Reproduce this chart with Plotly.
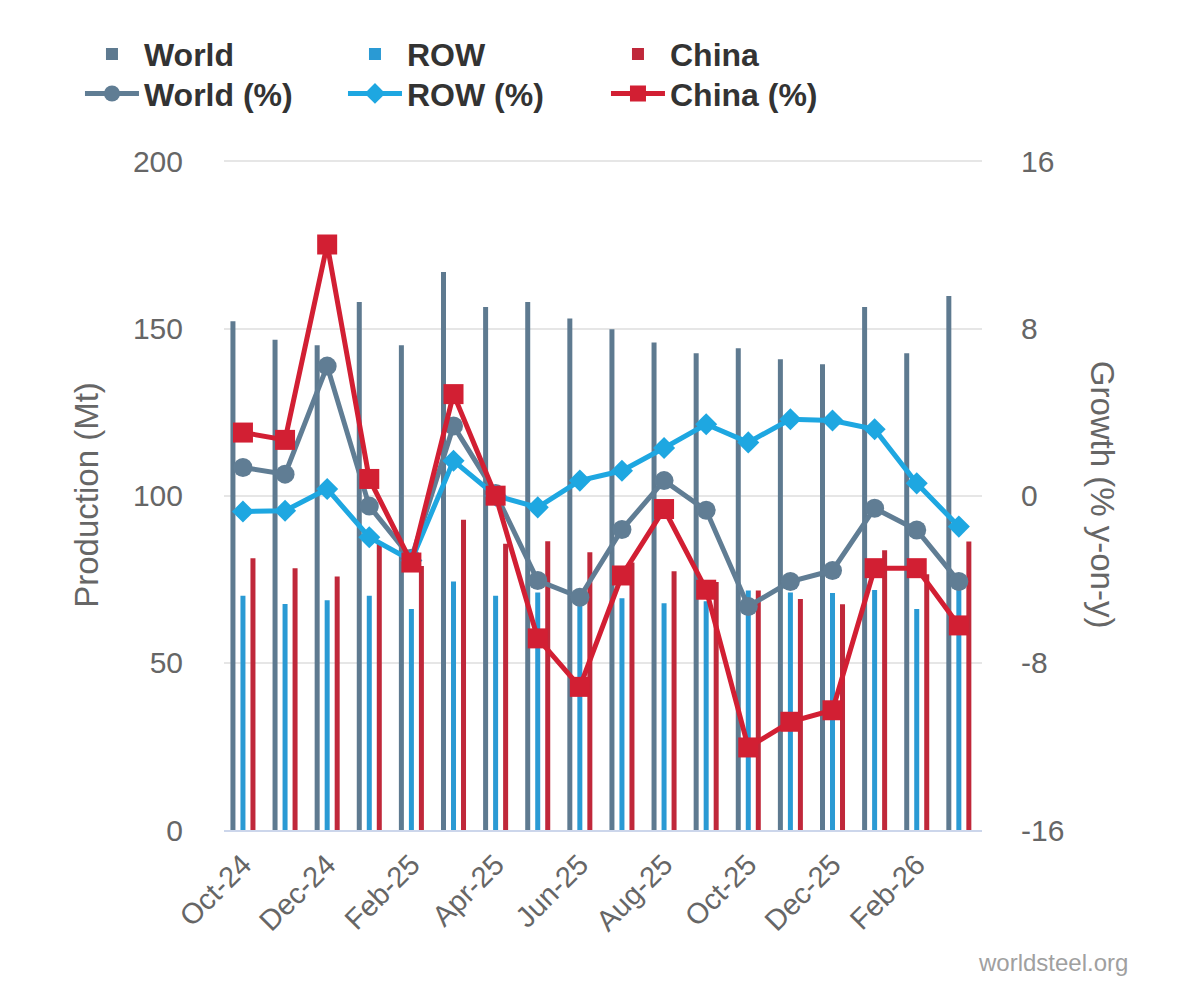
#!/usr/bin/env python
# -*- coding: utf-8 -*-

import plotly.graph_objects as go

# 월별 조강 생산 (Mt) 및 전년 대비 증감률 (%)
months = ["Oct-24", "Nov-24", "Dec-24", "Jan-25", "Feb-25", "Mar-25",
          "Apr-25", "May-25", "Jun-25", "Jul-25", "Aug-25", "Sep-25",
          "Oct-25", "Nov-25", "Dec-25", "Jan-26", "Feb-26", "Mar-26"]

tick_labels = ["Oct-24", "Dec-24", "Feb-25", "Apr-25", "Jun-25",
               "Aug-25", "Oct-25", "Dec-25", "Feb-26"]

growth_ticks = [-16, -8, 0, 8, 16]
growth_tick_text = ["-16", "-8", "0", "8", "16"]

world_mt = [152.2, 146.6, 145.0, 157.9, 145.0, 166.9, 156.4, 157.9, 153.0,
            149.8, 145.8, 142.6, 144.1, 140.8, 139.3, 156.4, 142.6, 159.7]
row_mt = [70.1, 67.6, 68.7, 70.1, 66.1, 74.3, 70.1, 71.0, 69.0,
          69.3, 67.8, 68.4, 71.6, 71.0, 70.9, 71.8, 66.1, 72.0]
china_mt = [81.3, 78.3, 75.8, 86.0, 79.0, 92.8, 85.6, 86.4, 83.1,
            80.0, 77.4, 74.2, 71.6, 69.1, 67.5, 83.7, 76.5, 86.3]

world_pct = [1.35, 1.03, 6.2, -0.5, -3.0, 3.34, 0.1, -4.06, -4.86,
             -1.62, 0.72, -0.7, -5.3, -4.11, -3.58, -0.6, -1.64, -4.11]
row_pct = [-0.76, -0.72, 0.32, -1.99, -3.1, 1.67, 0.0, -0.56, 0.72,
           1.19, 2.28, 3.42, 2.55, 3.66, 3.6, 3.18, 0.59, -1.48]
china_pct = [3.02, 2.67, 12.02, 0.8, -3.2, 4.86, 0.0, -6.83, -9.15,
             -3.82, -0.64, -4.5, -12.05, -10.82, -10.27, -3.47, -3.47, -6.21]

WORLD_BAR, WORLD_LINE = "#5e7a90", "#607d94"
ROW_BAR, ROW_LINE = "#2a9ad4", "#1ea7e1"
CHINA_BAR, CHINA_LINE = "#c0283a", "#d21f33"
FONT = "Arial, Liberation Sans, sans-serif"
GREY = "#666666"


def create_chart():
    fig = go.Figure()

    # 막대 (좌측 축)
    for name, vals, color in [("World", world_mt, WORLD_BAR),
                              ("ROW", row_mt, ROW_BAR),
                              ("China", china_mt, CHINA_BAR)]:
        fig.add_trace(go.Bar(
            x=months, y=vals, name=name,
            marker=dict(color=color, line=dict(width=0)),
            legend="legend", yaxis="y",
        ))

    # 증감률 선 (우측 축)
    for name, vals, color, symbol, size in [
            ("World (%)", world_pct, WORLD_LINE, "circle", 19),
            ("ROW (%)", row_pct, ROW_LINE, "diamond", 17),
            ("China (%)", china_pct, CHINA_LINE, "square", 20)]:
        fig.add_trace(go.Scatter(
            x=months, y=vals, name=name, mode="lines+markers",
            line=dict(color=color, width=5),
            marker=dict(color=color, symbol=symbol, size=size),
            legend="legend2", yaxis="y2",
        ))

    legend_common = dict(
        orientation="h", xanchor="left", yanchor="middle",
        x=-0.19, entrywidth=194, entrywidthmode="pixels", itemwidth=54,
        font=dict(family=FONT, size=32, color="#333333", weight="bold"),
        bgcolor="rgba(0,0,0,0)", traceorder="normal",
    )

    fig.update_layout(
        width=1200, height=1004,
        # 페이지 기본 여백 8px 보정
        margin=dict(l=216, r=226, t=152, b=182),
        paper_bgcolor="white", plot_bgcolor="white",
        font=dict(family=FONT, color=GREY),
        barmode="group", bargap=0.287, bargroupgap=0.5,
        showlegend=True,
        legend=dict(y=1.158, **legend_common),
        legend2=dict(y=1.099, **legend_common),
        xaxis=dict(
            type="category", categoryorder="array", categoryarray=months,
            range=[-0.45, 17.55],
            tickmode="array", tickvals=tick_labels, ticktext=tick_labels,
            tickangle=-45, tickfont=dict(size=29, color=GREY),
            showgrid=False, showline=True, linecolor="#ccd6eb", linewidth=2,
            ticks="", ticklabelstandoff=4,
        ),
        yaxis=dict(
            range=[0, 200.4], tickmode="array",
            tickvals=[0, 50, 100, 150, 200],
            tickfont=dict(size=30, color=GREY),
            showgrid=True, gridcolor="#e6e6e6", gridwidth=2,
            zeroline=False, showline=False, ticklabelstandoff=40,
            title=dict(text="Production (Mt)", standoff=24,
                       font=dict(size=33, color=GREY)),
        ),
        yaxis2=dict(
            range=[-16, 16.064], tickmode="array",
            tickvals=growth_ticks, ticktext=growth_tick_text,
            overlaying="y", side="right",
            tickfont=dict(size=30, color=GREY),
            showgrid=False, zeroline=False, showline=False,
            ticklabelstandoff=38,
        ),
    )

    # 우측 축 제목 (위에서 아래로 읽힘)
    fig.add_annotation(
        text="Growth (% y-on-y)", xref="paper", yref="paper",
        x=1.16, y=0.5, xanchor="center", yanchor="middle",
        textangle=90, showarrow=False,
        font=dict(size=33, color=GREY),
    )

    # 출처 표시
    fig.add_annotation(
        text="worldsteel.org", xref="paper", yref="paper",
        x=1.195, y=-0.198, xanchor="right", yanchor="middle", showarrow=False,
        font=dict(size=24, color="#a0a0a0"),
    )
    return fig


def main():
    fig = create_chart()
    fig.write_html("out.html")


if __name__ == "__main__":
    main()
